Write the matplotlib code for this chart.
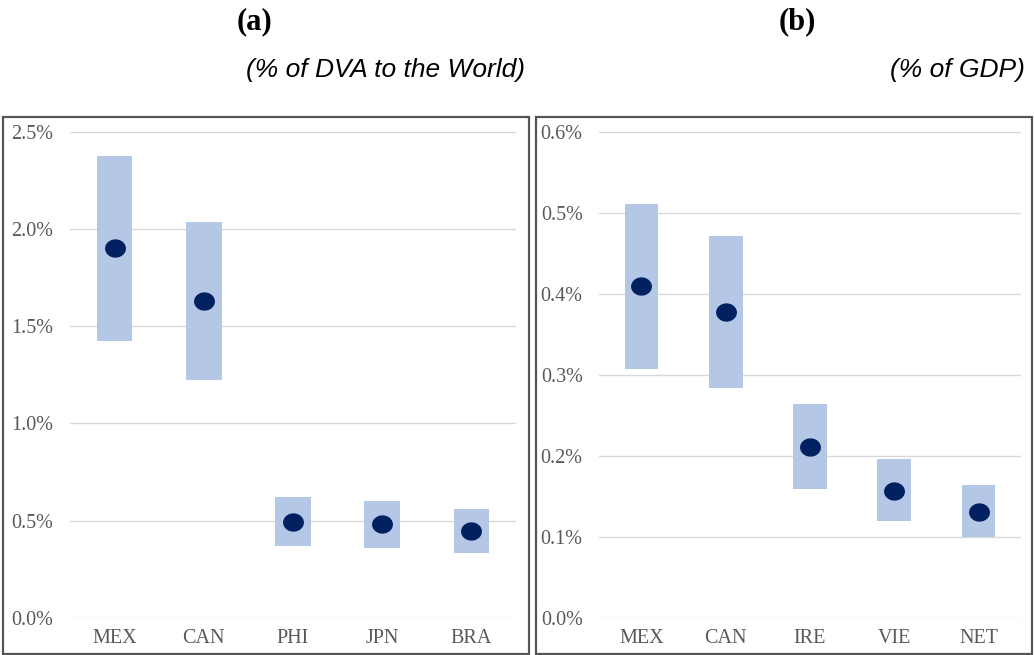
import matplotlib
matplotlib.use("Agg")
import matplotlib.pyplot as plt
import matplotlib.path as mpath
import matplotlib.patches as mpatches
import numpy as np
from matplotlib.ticker import FuncFormatter

# ---- data ----
cats_a = ["MEX", "CAN", "PHI", "JPN", "BRA"]
low_a = [1.426, 1.222, 0.371, 0.361, 0.335]
high_a = [2.376, 2.036, 0.619, 0.600, 0.559]
mid_a = [1.902, 1.629, 0.495, 0.483, 0.447]
yticks_a = [0.0, 0.5, 1.0, 1.5, 2.0, 2.5]

cats_b = ["MEX", "CAN", "IRE", "VIE", "NET"]
low_b = [0.307, 0.284, 0.159, 0.119, 0.100]
high_b = [0.511, 0.472, 0.264, 0.196, 0.164]
mid_b = [0.410, 0.378, 0.211, 0.157, 0.131]
yticks_b = [0.0, 0.1, 0.2, 0.3, 0.4, 0.5, 0.6]

BAR = "#B4C7E7"
DOT = "#002060"
GRID = "#D9D9D9"
TXT = "#595959"

W, H = 1034, 655
fig = plt.figure(figsize=(W / 100, H / 100), dpi=100)

# elliptical marker (slightly wider than tall)
t = np.linspace(0, 2 * np.pi, 64)
ell = mpath.Path(np.column_stack([1.15 * np.cos(t), np.sin(t)]), closed=True)

def panel(rect, cats, low, high, mid, yticks):
    ax = fig.add_axes(rect)
    x = np.arange(len(cats))
    heights = [h - l for h, l in zip(high, low)]
    ax.bar(x, heights, bottom=low, width=0.40, color=BAR, zorder=2)
    ax.plot(x, mid, linestyle="none", marker=ell, markersize=14,
            color=DOT, zorder=3)
    ax.set_xlim(-0.5, len(cats) - 0.5)
    ax.set_ylim(yticks[0], yticks[-1])
    ax.set_yticks(yticks)
    ax.yaxis.set_major_formatter(FuncFormatter(lambda v, p: f"{v:.1f}%"))
    ax.set_xticks(x)
    ax.set_xticklabels(cats)
    for s in ax.spines.values():
        s.set_visible(False)
    ax.grid(axis="y", color=GRID, linewidth=1.0, zorder=0)
    ax.set_axisbelow(True)
    ax.tick_params(axis="y", length=0, pad=12, labelsize=14.5, labelcolor=TXT)
    ax.tick_params(axis="x", length=0, pad=8, labelsize=14.5, labelcolor=TXT)
    for lab in ax.get_xticklabels() + ax.get_yticklabels():
        lab.set_fontfamily("Liberation Serif")
    return ax

bottom = (H - 617.7) / H
height = (617.7 - 132) / H
panel([70 / W, bottom, 446 / W, height], cats_a, low_a, high_a, mid_a, yticks_a)
panel([599.3 / W, bottom, 421.4 / W, height], cats_b, low_b, high_b, mid_b, yticks_b)

# panel frames
for x0, x1 in [(3, 529), (536, 1032)]:
    fig.add_artist(mpatches.Rectangle((x0 / W, (H - 654) / H), (x1 - x0) / W,
                                      (654 - 117) / H, transform=fig.transFigure,
                                      fill=False, edgecolor="#555555", linewidth=1.6))

# titles
fig.text(255 / W, 1 - 22 / H, "(a)", ha="center", va="center",
         fontsize=22, fontweight="bold", family="Liberation Serif")
fig.text(797 / W, 1 - 22 / H, "(b)", ha="center", va="center",
         fontsize=22, fontweight="bold", family="Liberation Serif")
fig.text(525 / W, 1 - 70 / H, "(% of DVA to the World)", ha="right", va="center",
         fontsize=19, style="italic", family="Liberation Sans")
fig.text(1025 / W, 1 - 70 / H, "(% of GDP)", ha="right", va="center",
         fontsize=19, style="italic", family="Liberation Sans")

fig.savefig("out.png", dpi=100)
